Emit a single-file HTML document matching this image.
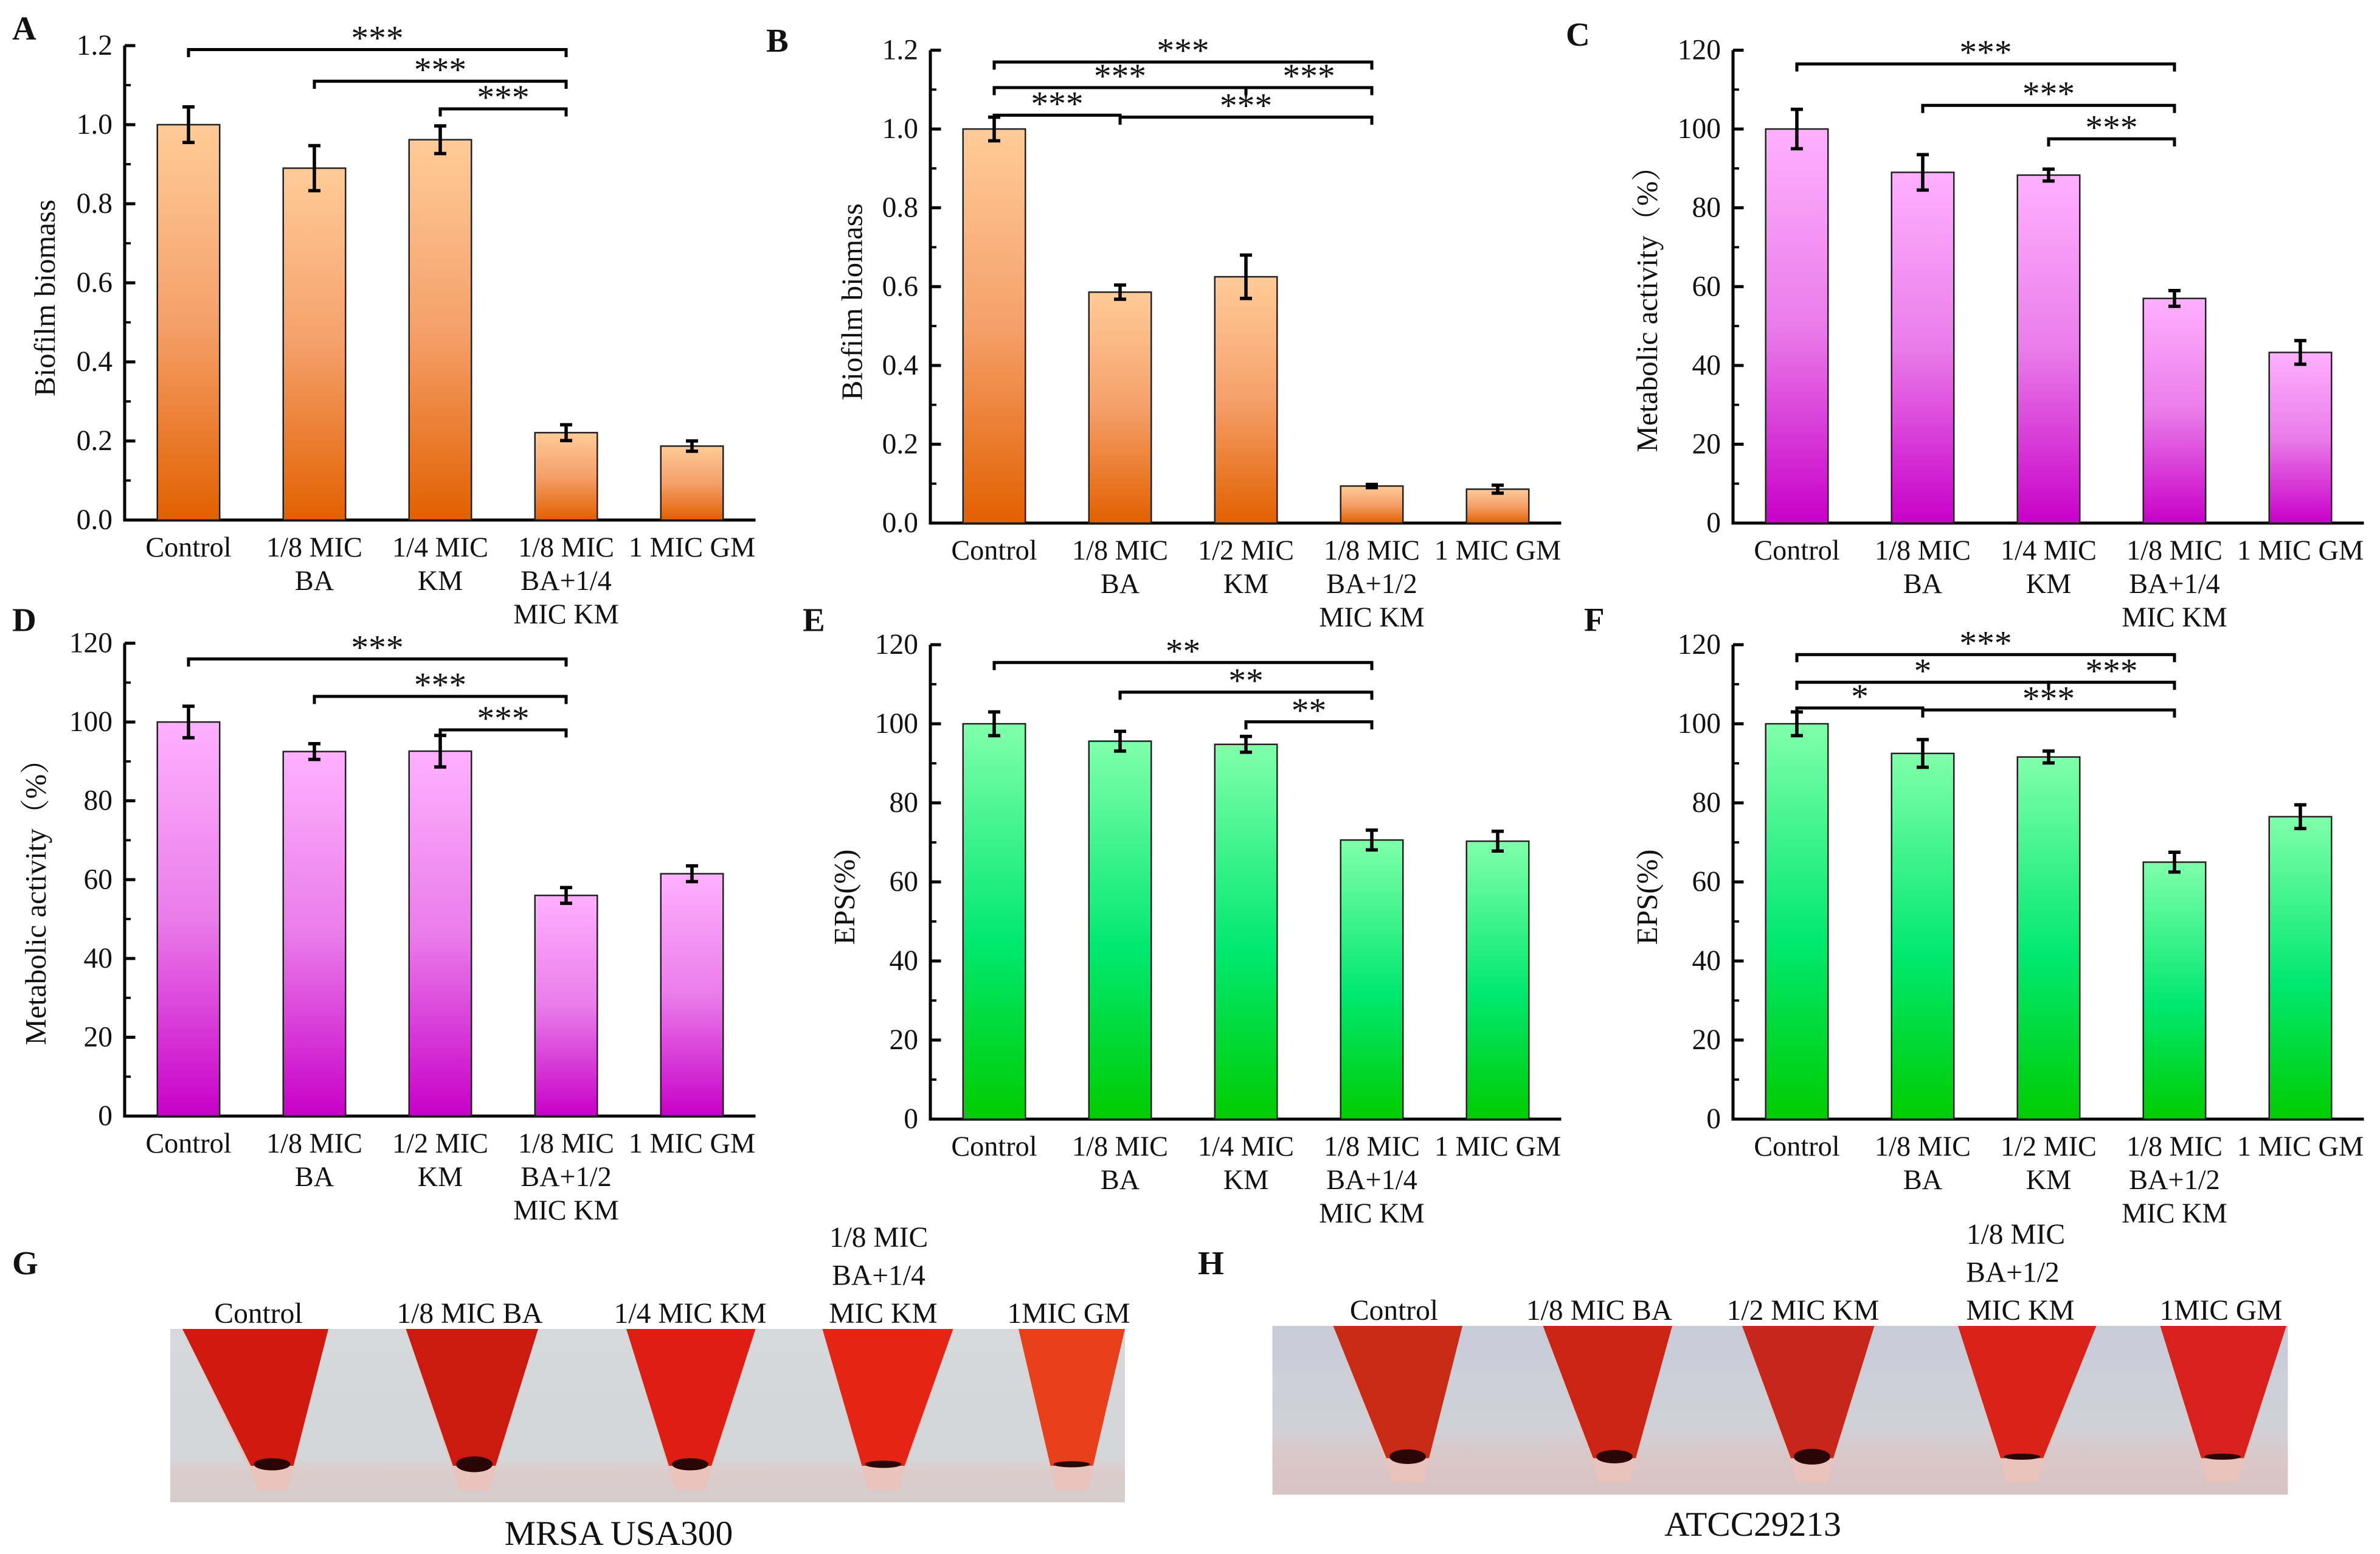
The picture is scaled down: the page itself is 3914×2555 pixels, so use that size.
<!DOCTYPE html>
<html><head><meta charset="utf-8">
<style>
html,body{margin:0;padding:0;background:#fff;}
svg{display:block;}
text{font-family:"Liberation Serif","Times New Roman",serif;fill:#111;}
</style></head>
<body>
<svg id="fig" width="3914" height="2555" viewBox="0 0 1565.6 1022" xmlns="http://www.w3.org/2000/svg" font-family="Liberation Serif, serif">
<defs>
<linearGradient id="gOrange" x1="0" y1="0" x2="0" y2="1"><stop offset="0" stop-color="#ffcb98"/><stop offset="0.5" stop-color="#f5a06a"/><stop offset="1" stop-color="#e26000"/></linearGradient>
<linearGradient id="gPink" x1="0" y1="0" x2="0" y2="1"><stop offset="0" stop-color="#ffb0ff"/><stop offset="0.5" stop-color="#ea7cea"/><stop offset="1" stop-color="#c800c8"/></linearGradient>
<linearGradient id="gGreen" x1="0" y1="0" x2="0" y2="1"><stop offset="0" stop-color="#80ffaa"/><stop offset="0.55" stop-color="#00e870"/><stop offset="1" stop-color="#00cc00"/></linearGradient>
<linearGradient id="bgG" x1="0" y1="0" x2="0" y2="1"><stop offset="0" stop-color="#d6d8dc"/><stop offset="0.75" stop-color="#d4d5d8"/><stop offset="0.82" stop-color="#dccccc"/><stop offset="1" stop-color="#d4cccc"/></linearGradient>
<linearGradient id="bgH" x1="0" y1="0" x2="0" y2="1"><stop offset="0" stop-color="#c8cbd8"/><stop offset="0.6" stop-color="#d0d1d8"/><stop offset="0.8" stop-color="#dac6c6"/><stop offset="1" stop-color="#d8c4c4"/></linearGradient>
</defs>
<g id="charts"></g>
<g id="photos"></g>
</svg>
<script>
const NS="http://www.w3.org/2000/svg";
const svg=document.getElementById('charts');
function mk(tag,attrs,parent,txt){const e=document.createElementNS(NS,tag);for(const k in attrs)e.setAttribute(k,attrs[k]);if(txt!==undefined)e.textContent=txt;(parent||svg).appendChild(e);return e;}

// Panel A data
const catsA=[["Control"],["1/8 MIC","BA"],["1/4 MIC","KM"],["1/8 MIC","BA+1/4","MIC KM"],["1 MIC GM"]];
const valsA=[1.00,0.89,0.962,0.221,0.187];
const errsA=[0.045,0.057,0.035,0.02,0.013];
const ticksA=["0.0","0.2","0.4","0.6","0.8","1.0","1.2"];
// Panel B data
const catsB=[["Control"],["1/8 MIC","BA"],["1/2 MIC","KM"],["1/8 MIC","BA+1/2","MIC KM"],["1 MIC GM"]];
const valsB=[1.00,0.586,0.625,0.094,0.086];
const errsB=[0.03,0.018,0.055,0.004,0.01];
const ticksB=["0.0","0.2","0.4","0.6","0.8","1.0","1.2"];
// Panel C data
const catsC=[["Control"],["1/8 MIC","BA"],["1/4 MIC","KM"],["1/8 MIC","BA+1/4","MIC KM"],["1 MIC GM"]];
const valsC=[100,89,88.3,57,43.3];
const errsC=[5,4.5,1.5,2,3];
const ticksC=["0","20","40","60","80","100","120"];
// Panel D data
const catsD=[["Control"],["1/8 MIC","BA"],["1/2 MIC","KM"],["1/8 MIC","BA+1/2","MIC KM"],["1 MIC GM"]];
const valsD=[100,92.5,92.6,56,61.5];
const errsD=[4,2,4,2,2];
const ticksD=["0","20","40","60","80","100","120"];
// Panel E data
const catsE=[["Control"],["1/8 MIC","BA"],["1/4 MIC","KM"],["1/8 MIC","BA+1/4","MIC KM"],["1 MIC GM"]];
const valsE=[100,95.6,94.8,70.6,70.3];
const errsE=[3,2.5,2,2.5,2.5];
const ticksE=["0","20","40","60","80","100","120"];
// Panel F data
const catsF=[["Control"],["1/8 MIC","BA"],["1/2 MIC","KM"],["1/8 MIC","BA+1/2","MIC KM"],["1 MIC GM"]];
const valsF=[100,92.5,91.6,65,76.5];
const errsF=[3,3.5,1.5,2.5,3];
const ticksF=["0","20","40","60","80","100","120"];
// significance brackets: [fromIndex,toIndex,label,levelY(value units)]
const sigA=[[0,3,"***",1.19],[1,3,"***",1.11],[2,3,"***",1.04]];
const sigB=[[0,3,"***",1.17],[0,2,"***",1.105],[2,3,"***",1.105],[0,1,"***",1.035],[1,3,"***",1.03]];
const sigC=[[0,3,"***",116.5],[1,3,"***",106],[2,3,"***",97.5]];
const sigD=[[0,3,"***",116],[1,3,"***",106.5],[2,3,"***",98]];
const sigE=[[0,3,"**",115.5],[1,3,"**",108],[2,3,"**",100.5]];
const sigF=[[0,3,"***",117.5],[0,2,"*",110.5],[2,3,"***",110.5],[0,1,"*",104],[1,3,"***",103.5]];

const panels=[
 {id:"a",letter:"A",lx:8,ly:26,ox:82,yb:342,yt:30,max:1.2,cats:catsA,vals:valsA,errs:errsA,ticks:ticksA,sig:sigA,grad:"gOrange",ylab:"Biofilm biomass",ylx:36},
 {id:"b",letter:"B",lx:504,ly:34,ox:612,yb:344,yt:33,max:1.2,cats:catsB,vals:valsB,errs:errsB,ticks:ticksB,sig:sigB,grad:"gOrange",ylab:"Biofilm biomass",ylx:567},
 {id:"c",letter:"C",lx:1030,ly:30,ox:1140,yb:344,yt:33,max:120,cats:catsC,vals:valsC,errs:errsC,ticks:ticksC,sig:sigC,grad:"gPink",ylab:"Metabolic activity（%）",ylx:1090},
 {id:"d",letter:"D",lx:8,ly:415,ox:82,yb:734,yt:423,max:120,cats:catsD,vals:valsD,errs:errsD,ticks:ticksD,sig:sigD,grad:"gPink",ylab:"Metabolic activity（%）",ylx:30},
 {id:"e",letter:"E",lx:528,ly:415,ox:612,yb:736,yt:424,max:120,cats:catsE,vals:valsE,errs:errsE,ticks:ticksE,sig:sigE,grad:"gGreen",ylab:"EPS(%)",ylx:562},
 {id:"f",letter:"F",lx:1042,ly:415,ox:1140,yb:736,yt:424,max:120,cats:catsF,vals:valsF,errs:errsF,ticks:ticksF,sig:sigF,grad:"gGreen",ylab:"EPS(%)",ylx:1090}
];

panels.forEach(p=>{
 const g=mk('g',{});
 
 
 const y=v=>p.yb-(v/p.max)*(p.yb-p.yt);
 const x=i=>p.ox+42+i*82.8;
 const L=mk('text',{x:p.lx,y:p.ly,'font-size':22,'font-weight':'bold'},g,p.letter);
 
 
 const ax=mk('path',{d:`M${p.ox},${p.yt} V${p.yb} H${p.ox+415}`,stroke:'#000','stroke-width':2,fill:'none'},g);
 
 
 const n=p.ticks.length;
 for(let i=0;i<n;i++){
  const v=p.max*i/(n-1);
  mk('line',{x1:p.ox,x2:p.ox+7,y1:y(v),y2:y(v),stroke:'#000','stroke-width':2},g);
  if(i<n-1){const vm=p.max*(i+0.5)/(n-1);mk('line',{x1:p.ox,x2:p.ox+4,y1:y(vm),y2:y(vm),stroke:'#000','stroke-width':1.5},g);}
  const t=mk('text',{x:p.ox-8,y:y(v)+6,'font-size':19,'text-anchor':'end'},g,p.ticks[i]);
  
  
 }
 const yl=mk('text',{x:p.ylx,y:(p.yt+p.yb)/2+10,'font-size':19.5,'text-anchor':'middle',transform:`rotate(-90 ${p.ylx} ${(p.yt+p.yb)/2+10})`,
   style:'font-family:"Liberation Serif","Noto Serif CJK SC",serif'},g,p.ylab);
 
 
 p.vals.forEach((v,i)=>{
  const cx=x(i);
  const r=mk('rect',{x:cx-20.5,y:y(v),width:41,height:p.yb-y(v),fill:`url(#${p.grad})`,stroke:'#222','stroke-width':1},g);
  
  
  const e=p.errs[i],yt=y(v+e),ybt=y(v-e);
  const eb=mk('path',{d:`M${cx},${yt} V${ybt} M${cx-4},${yt} H${cx+4} M${cx-4},${ybt} H${cx+4}`,stroke:'#000','stroke-width':2.2,fill:'none'},g);
  
  
  p.cats[i].forEach((ln,j)=>{
   const t=mk('text',{x:cx,y:p.yb+24+j*22,'font-size':18.5,'text-anchor':'middle'},g,ln);
   
   
  });
 });
 p.sig.forEach(s=>{
  const x1=x(s[0]),x2=x(s[1]),yy=y(s[3]);
  const b=mk('path',{d:`M${x1},${yy+5} V${yy} H${x2} V${yy+5}`,stroke:'#000','stroke-width':2,fill:'none'},g);
  
  
  const t=mk('text',{x:(x1+x2)/2,y:yy,'font-size':23,'text-anchor':'middle'},g,s[2]);
  
  
 });
});

// Photos
const ph=document.getElementById('photos');
const photoG={x:112,y:874,w:628,h:114,tubes:[[120,216,179],[267,354,312],[412,497,454],[541,627,581],[670,740,705]],pellet:[1,1.3,1,0.6,0.5],cols:["#d01a10","#cc1a10","#de1e12","#e42414","#e8401a"]};
const photoH={x:837,y:872,w:668,h:111,tubes:[[877,962,926],[1015,1100,1062],[1146,1233,1192],[1288,1379,1330],[1421,1504,1462]],pellet:[1.2,1.1,1.3,0.5,0.5],cols:["#c82a14","#cc2414","#c8261a","#d8221a","#d8201c"]};
function drawPhoto(P,bg,name){
 const g=mk('g',{},ph);
 
 
 mk('rect',{x:P.x,y:P.y,width:P.w,height:P.h,fill:`url(#${bg})`},g);
 const tipY=P.y+P.h-8;
 P.tubes.forEach((t,i)=>{
  const [l,r,c]=t;
  mk('path',{d:`M${l},${P.y} L${r},${P.y} L${c+13},${tipY-10} L${c+10},${tipY} L${c-10},${tipY} L${c-13},${tipY-10} Z`,fill:'#e8c4bc'},g);
  mk('path',{d:`M${l},${P.y} L${r},${P.y} L${c+14},${tipY-16} L${c-14},${tipY-16} Z`,fill:P.cols[i]},g);
  const s=P.pellet[i];
  mk('ellipse',{cx:c,cy:tipY-17,rx:12,ry:4*s,fill:'#2a0606'},g);
 });
}
drawPhoto(photoG,'bgG','photo-mrsa');
drawPhoto(photoH,'bgH','photo-atcc');
const labs=[
 ["G",8,838,22,'bold','start'],["H",788,838,22,'bold','start'],
 ["Control",170,870,19,'normal','middle'],["1/8 MIC BA",309,870,19,'normal','middle'],["1/4 MIC KM",454,870,19,'normal','middle'],
 ["1/8 MIC",578,820,19,'normal','middle'],["BA+1/4",578,845,19,'normal','middle'],["MIC KM",581,870,19,'normal','middle'],["1MIC GM",703,870,19,'normal','middle'],
 ["Control",917,868,19,'normal','middle'],["1/8 MIC BA",1052,868,19,'normal','middle'],["1/2 MIC KM",1186,868,19,'normal','middle'],
 ["1/8 MIC",1326,818,19,'normal','middle'],["BA+1/2",1324,843,19,'normal','middle'],["MIC KM",1329,868,19,'normal','middle'],["1MIC GM",1461,868,19,'normal','middle'],
 ["MRSA USA300",407,1016,23,'normal','middle'],["ATCC29213",1153,1010,23,'normal','middle']
];
labs.forEach(a=>{
 const t=mk('text',{x:a[1],y:a[2],'font-size':a[3],'font-weight':a[4],'text-anchor':a[5]},ph,a[0]);
 
 
});
</script>
</body></html>
